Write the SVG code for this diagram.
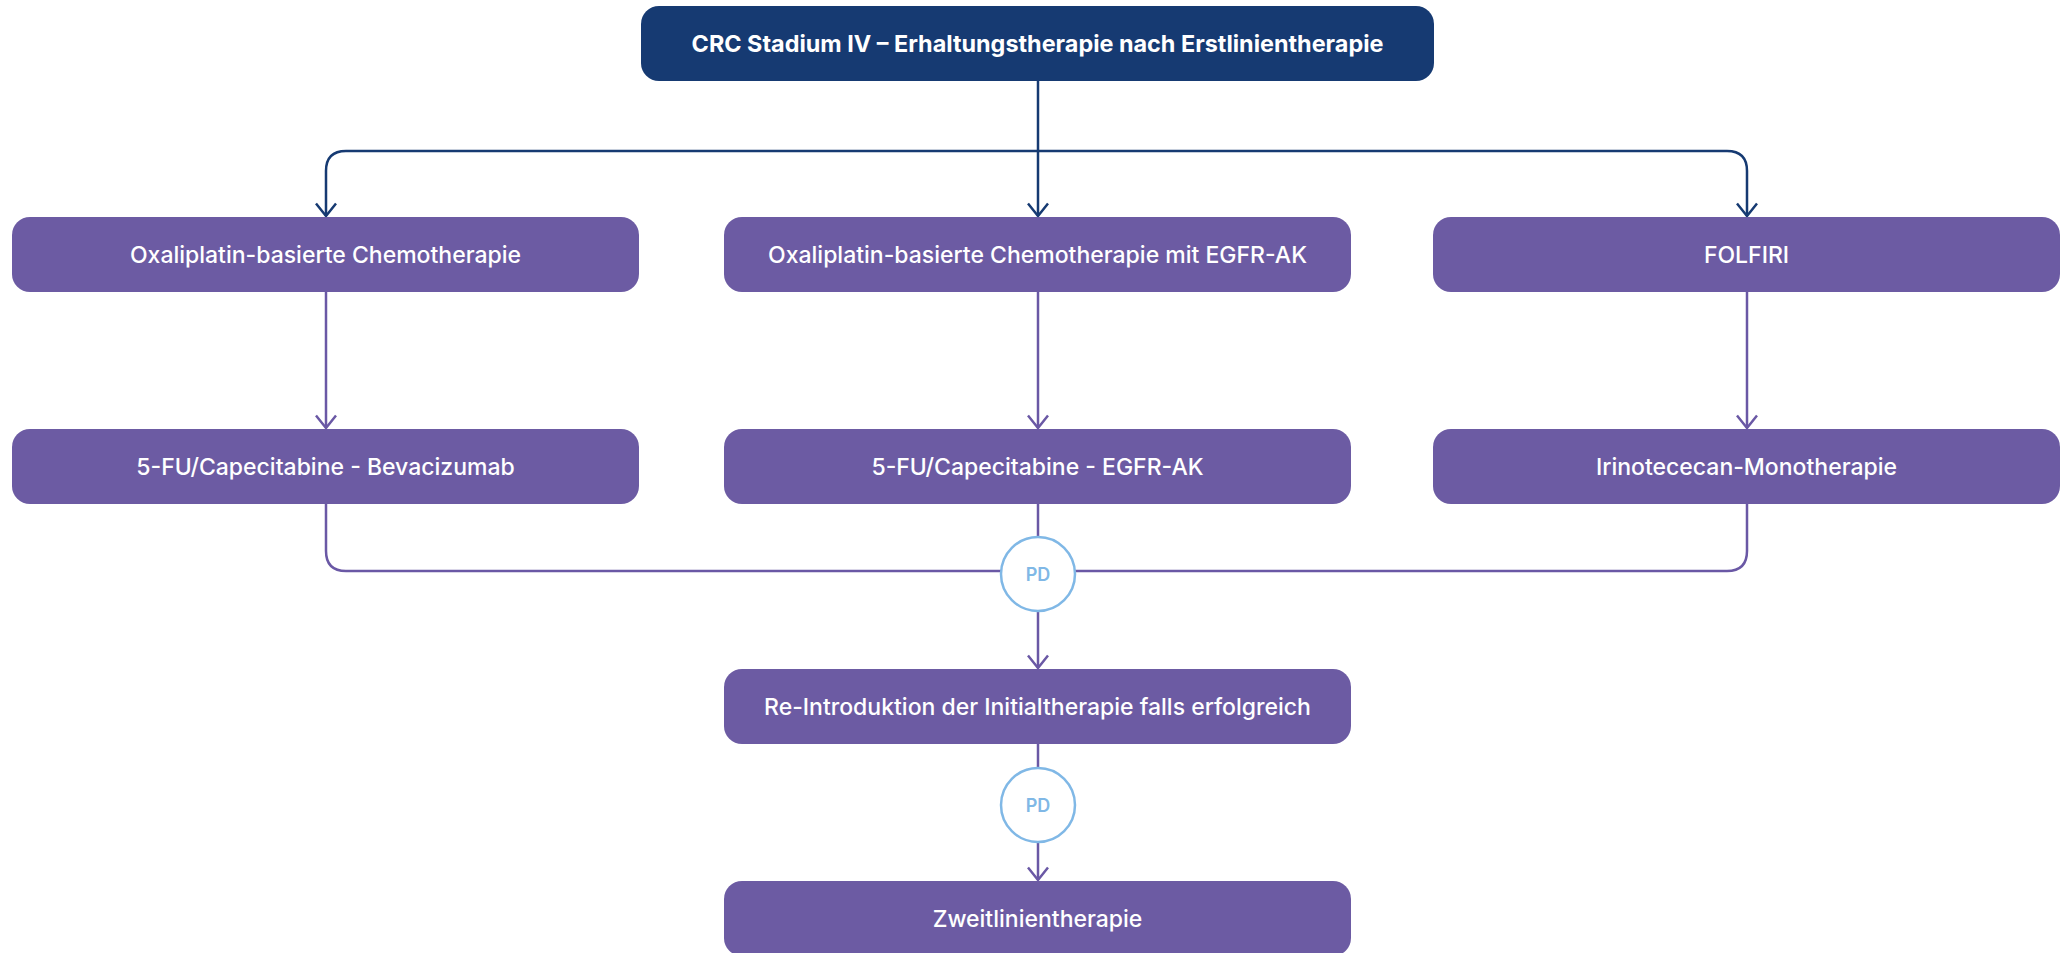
<svg xmlns="http://www.w3.org/2000/svg" width="2069" height="953" viewBox="0 0 2069 953">
  <style>
    .box { fill: #6C5BA3; }
    .head { fill: #163A72; }
    .lbl { font-family: Inter, "Liberation Sans", sans-serif; font-size: 23px; font-weight: 500; fill: #FFFFFF; text-anchor: middle; }
    .ttl { font-family: Inter, "Liberation Sans", sans-serif; font-size: 23.4px; font-weight: 700; fill: #FFFFFF; text-anchor: middle; }
    .navy { fill: none; stroke: #163A72; stroke-width: 2.5; }
    .purple { fill: none; stroke: #6A58A5; stroke-width: 2.5; }
    .pd circle { fill: #FFFFFF; stroke: #80B8E6; stroke-width: 2.5; }
    .pd text { font-family: Inter, "Liberation Sans", sans-serif; font-size: 18px; font-weight: 600; fill: #80B8E6; text-anchor: middle; }
  </style>
  <defs>
    <marker id="arrNavy" viewBox="-14 -11 16 22" refX="0" refY="0" markerWidth="16" markerHeight="22" markerUnits="userSpaceOnUse" orient="auto">
      <path d="M-12.5,-10 L0,0 L-12.5,10" fill="none" stroke="#163A72" stroke-width="2.5"/>
    </marker>
    <marker id="arrPurple" viewBox="-14 -11 16 22" refX="0" refY="0" markerWidth="16" markerHeight="22" markerUnits="userSpaceOnUse" orient="auto">
      <path d="M-12.5,-10 L0,0 L-12.5,10" fill="none" stroke="#6A58A5" stroke-width="2.5"/>
    </marker>
  </defs>

  <!-- connectors -->
  <g id="connectors">
    <path class="navy" d="M1038,81 V216" marker-end="url(#arrNavy)"/>
    <path class="navy" d="M1038,151 H346 Q326,151 326,171 V216" marker-end="url(#arrNavy)"/>
    <path class="navy" d="M1038,151 H1727 Q1747,151 1747,171 V216" marker-end="url(#arrNavy)"/>
    <path class="purple" d="M326,292 V428" marker-end="url(#arrPurple)"/>
    <path class="purple" d="M1038,292 V428" marker-end="url(#arrPurple)"/>
    <path class="purple" d="M1747,292 V428" marker-end="url(#arrPurple)"/>
    <path class="purple" d="M326,504 V551 Q326,571 346,571 H1001"/>
    <path class="purple" d="M1747,504 V551 Q1747,571 1727,571 H1075"/>
    <path class="purple" d="M1038,504 V537"/>
    <path class="purple" d="M1038,611 V668" marker-end="url(#arrPurple)"/>
    <path class="purple" d="M1038,744 V768"/>
    <path class="purple" d="M1038,842 V880" marker-end="url(#arrPurple)"/>
  </g>

  <g id="node-start">
    <rect class="head" x="641" y="6" width="793" height="75" rx="18"/>
    <text class="ttl" x="1037.5" y="52">CRC Stadium IV – Erhaltungstherapie nach Erstlinientherapie</text>
  </g>

  <g id="node-oxali">
    <rect class="box" x="12" y="217" width="627" height="75" rx="18"/>
    <text class="lbl" x="325.5" y="263">Oxaliplatin-basierte Chemotherapie</text>
  </g>
  <g id="node-oxali-egfr">
    <rect class="box" x="724" y="217" width="627" height="75" rx="18"/>
    <text class="lbl" x="1037.5" y="263">Oxaliplatin-basierte Chemotherapie mit EGFR-AK</text>
  </g>
  <g id="node-folfiri">
    <rect class="box" x="1433" y="217" width="627" height="75" rx="18"/>
    <text class="lbl" x="1746.5" y="263">FOLFIRI</text>
  </g>

  <g id="node-bev">
    <rect class="box" x="12" y="429" width="627" height="75" rx="18"/>
    <text class="lbl" x="325.5" y="475">5-FU/Capecitabine - Bevacizumab</text>
  </g>
  <g id="node-egfr">
    <rect class="box" x="724" y="429" width="627" height="75" rx="18"/>
    <text class="lbl" x="1037.5" y="475">5-FU/Capecitabine - EGFR-AK</text>
  </g>
  <g id="node-iri">
    <rect class="box" x="1433" y="429" width="627" height="75" rx="18"/>
    <text class="lbl" x="1746.5" y="475">Irinotececan-Monotherapie</text>
  </g>

  <g id="pd-1" class="pd">
    <circle cx="1038" cy="574" r="37"/>
    <text x="1038" y="580.5">PD</text>
  </g>

  <g id="node-reintro">
    <rect class="box" x="724" y="669" width="627" height="75" rx="18"/>
    <text class="lbl" x="1037.5" y="715">Re-Introduktion der Initialtherapie falls erfolgreich</text>
  </g>

  <g id="pd-2" class="pd">
    <circle cx="1038" cy="805" r="37"/>
    <text x="1038" y="811.5">PD</text>
  </g>

  <g id="node-second">
    <rect class="box" x="724" y="881" width="627" height="75" rx="18"/>
    <text class="lbl" x="1037.5" y="927">Zweitlinientherapie</text>
  </g>
</svg>
